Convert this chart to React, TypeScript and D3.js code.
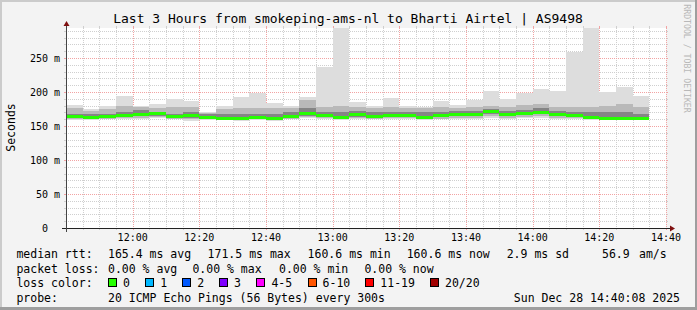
import React from 'react';
import * as d3 from 'd3';

const W = 697;
const H = 310;

const title = 'Last 3 Hours from smokeping-ams-nl to Bharti Airtel | AS9498';
const yAxisTitle = 'Seconds';
const watermark = 'RRDTOOL / TOBI OETIKER';

const startTime = new Date(2025, 11, 28, 11, 40);
const endTime = new Date(2025, 11, 28, 14, 40);
const stepMinutes = 5;

// RTT summary per 5-minute step (ms), 35 steps from 11:40
const maxRtt = [181, 175, 180, 194, 180, 183, 190, 187, 171, 180, 192, 199, 184, 180, 192, 237, 300, 185, 180, 191.5, 180, 178, 187, 181, 187.5, 202, 190, 198, 204, 202, 259, 300, 200.5, 207, 194];
const hi85Rtt = [176, 172, 175, 180, 178, 176, 178, 178, 169, 175, 176, 177, 176, 176, 188, 178, 180, 178, 176, 178, 177, 176, 178, 177, 178, 180, 178, 181, 182, 178, 178, 178, 180, 182, 178];
const hi65Rtt = [168, 167, 168, 170, 174, 171, 168, 170, 167, 167, 168, 168, 167, 170, 176, 170, 170, 172, 170, 170, 171, 170, 171, 172, 172, 175, 172, 174, 176, 172, 171, 170, 170, 170, 168];
const medianRtt = [164, 163, 164, 165, 166.5, 168, 163.5, 165, 162, 161.5, 161, 162.5, 161, 164.5, 168.5, 165.5, 162.5, 166.5, 164, 165.5, 165, 163, 165, 167, 167.5, 171.5, 166.5, 168.5, 170.5, 167.5, 165, 162, 161, 160.8, 160.6];
const lo35Rtt = [161.5, 161, 162, 163, 164, 165, 162, 162, 161, 161, 160, 161, 160, 162, 165, 163, 161, 163, 162, 163, 163, 161, 163, 164, 164, 167, 164, 166, 167, 164, 163, 161, 160.5, 160.6, 160.2];
const lo15Rtt = [160, 160, 161, 162, 162, 163, 161, 160, 160, 160, 159, 160, 159, 161, 163, 162, 160, 162, 161, 162, 162, 160, 161, 162, 162, 164, 162, 163, 164, 162, 162, 160, 160, 160, 159.5];
const minRtt = [158.5, 159, 160, 160, 161, 162, 160, 158, 159, 159, 158, 159, 158, 160, 162, 161, 159, 161, 160, 161, 161, 159, 160, 161, 161, 162, 161, 162, 162, 161, 161, 159, 159, 159, 158.5];

const yMajorTicks = [0, 50, 100, 150, 200, 250];
const yTickLabels = ['0\u00a0\u00a0', '50 m', '100 m', '150 m', '200 m', '250 m'];

const legendRows = [
  { label: 'median rtt:', items: [['165.4 ms avg', 108], ['171.5 ms max', 207.6], ['160.6 ms min', 307.6], ['160.6 ms now', 406.7], ['2.9 ms sd', 506.7], ['56.9', 602], ['am/s', 639]] },
  { label: 'packet loss:', items: [['0.00 % avg', 108], ['0.00 % max', 192.4], ['0.00 % min', 279], ['0.00 % now', 364.4]] },
];
const lossLabels = ['0', '1', '2', '3', '4-5', '6-10', '11-19', '20/20'];
const lossColors = ['#26ff00', '#00b8ff', '#0059ff', '#7e00ff', '#ff00ff', '#ff5500', '#ff0000', '#a10000'];
const lossBoxX = [108, 145.3, 182.2, 219, 256.4, 307.6, 365.3, 430];
const probeText = '20 ICMP Echo Pings (56 Bytes) every 300s';
const dateText = 'Sun Dec 28 14:40:08 2025';

const FONT = 'DejaVu Sans Mono';

export default function App() {
  const left = 66, right = 666, top = 28, bottom = 228;
  const x = d3.scaleTime().domain([startTime, endTime]).range([left, right]);
  const y = d3.scaleLinear().domain([0, 294.1]).range([bottom, top]);

  const steps = medianRtt.map((_, i) => d3.timeMinute.offset(startTime, i * stepMinutes));
  const minorTimes = d3.timeMinute.every(5)!.range(startTime, d3.timeMinute.offset(endTime, 1));
  const majorTimes = minorTimes.filter((t) => t.getMinutes() % 20 === 0);
  const yMinor = d3.range(10, 294, 10).filter((v) => v % 50 !== 0);
  const fmt = d3.timeFormat('%H:%M');

  const px = (v: number) => Math.round(v) + 0.5;
  const minorCol = '#cfcfcf';
  const majorCol = '#f2a3a3';

  const bands: [number[], number[], string][] = [
    [minRtt, maxRtt, '#dddddd'],
    [lo15Rtt, hi85Rtt, '#b9b9b9'],
    [lo35Rtt, hi65Rtt, '#858585'],
  ];

  return (
    <svg width={W} height={H} style={{ position: 'absolute', left: 0, top: 0 }} fontFamily={FONT}>
      <defs>
        <clipPath id="canvas">
          <rect x={left} y={top} width={right - left} height={bottom - top} />
        </clipPath>
      </defs>
      <rect x={0} y={0} width={W} height={H} fill="#f3f3f3" />
      <rect x={0} y={0} width={W} height={2} fill="#cbcbcb" />
      <rect x={0} y={0} width={2} height={H} fill="#cbcbcb" />
      <rect x={0} y={H - 3} width={W} height={3} fill="#9e9e9e" />
      <rect x={W - 2} y={0} width={2} height={H} fill="#9e9e9e" />
      <rect x={left} y={top} width={right - left} height={bottom - top} fill="#ffffff" />

      {/* minor grid */}
      <g shapeRendering="crispEdges">
        {yMinor.map((v) => (
          <g key={'ym' + v}>
            <line x1={left} x2={right} y1={px(y(v))} y2={px(y(v))} stroke={minorCol} strokeDasharray="1 1" />
            <line x1={left - 2} x2={left} y1={px(y(v))} y2={px(y(v))} stroke={minorCol} />
            <line x1={right} x2={right + 2} y1={px(y(v))} y2={px(y(v))} stroke={minorCol} />
          </g>
        ))}
        {minorTimes.filter((t) => t.getMinutes() % 20 !== 0).map((t) => (
          <g key={'xm' + t.getTime()}>
            <line x1={px(x(t))} x2={px(x(t))} y1={top} y2={bottom} stroke={minorCol} strokeDasharray="1 1" />
            <line x1={px(x(t))} x2={px(x(t))} y1={bottom} y2={bottom + 2} stroke={minorCol} />
            <line x1={px(x(t))} x2={px(x(t))} y1={top - 2} y2={top} stroke={minorCol} />
          </g>
        ))}
        {yMajorTicks.filter((v) => v > 0).map((v) => (
          <g key={'yM' + v}>
            <line x1={left} x2={right} y1={px(y(v))} y2={px(y(v))} stroke={majorCol} strokeDasharray="1 1" />
            <line x1={left - 2} x2={left} y1={px(y(v))} y2={px(y(v))} stroke={majorCol} />
            <line x1={right} x2={right + 2} y1={px(y(v))} y2={px(y(v))} stroke={majorCol} />
          </g>
        ))}
        {majorTimes.filter((t) => t > startTime).map((t) => (
          <g key={'xM' + t.getTime()}>
            <line x1={px(x(t))} x2={px(x(t))} y1={top} y2={bottom} stroke={majorCol} strokeDasharray="1 1" />
            <line x1={px(x(t))} x2={px(x(t))} y1={bottom} y2={bottom + 2} stroke={majorCol} />
            <line x1={px(x(t))} x2={px(x(t))} y1={top - 2} y2={top} stroke={majorCol} />
          </g>
        ))}
      </g>

      {/* smoke */}
      <g clipPath="url(#canvas)" shapeRendering="crispEdges">
        {bands.map(([lo, hi, col], b) =>
          steps.map((t, i) => {
            const x0 = x(t);
            const x1 = x(d3.timeMinute.offset(t, stepMinutes));
            return (
              <rect key={'b' + b + '-' + i} x={x0} y={y(hi[i])} width={x1 - x0} height={y(lo[i]) - y(hi[i])} fill={col} />
            );
          })
        )}
        {steps.map((t, i) => {
          const x0 = x(t);
          const x1 = x(d3.timeMinute.offset(t, stepMinutes));
          return <rect key={'m' + i} x={x0} y={y(medianRtt[i]) - 1.5} width={x1 - x0} height={3} fill={lossColors[0]} />;
        })}
      </g>

      {/* axes */}
      <g shapeRendering="crispEdges">
        <line x1={left - 4} x2={right + 4} y1={px(bottom)} y2={px(bottom)} stroke="#222" />
        <line x1={px(left)} x2={px(left)} y1={bottom + 4} y2={top - 3} stroke="#444" />
      </g>
      <path d={`M${left + 0.5},21 L${left + 3.5},26 L${left - 2.5},26 Z`} fill="#7f1010" />
      <path d={`M${right + 9},${bottom + 0.5} L${right + 4},${bottom - 2.5} L${right + 4},${bottom + 3.5} Z`} fill="#7f1010" />

      {/* y labels */}
      {yMajorTicks.map((v, i) => (
        <text key={'yl' + v} x={60} y={y(v) + 3.6} fontSize={10} textAnchor="end" fill="#000">
          {yTickLabels[i]}
        </text>
      ))}
      {/* x labels */}
      {majorTimes.filter((t) => t > startTime).map((t) => (
        <text key={'xl' + t.getTime()} x={x(t)} y={240.5} fontSize={10} textAnchor="middle" fill="#000">
          {fmt(t)}
        </text>
      ))}

      <text x={348} y={23} fontSize={13} textAnchor="middle" fill="#000">{title}</text>
      <text transform="translate(14.5,127.5) rotate(-90)" fontSize={11.5} textAnchor="middle" fill="#000">{yAxisTitle}</text>
      <text transform="translate(684,58.5) rotate(90)" fontSize={8.2} textAnchor="middle" fill="#b8b8b8">{watermark}</text>

      {/* legend */}
      {legendRows.map((row, r) => (
        <g key={'lr' + r}>
          <text x={16.4} y={258 + r * 14.5} fontSize={11.5} fill="#000">{row.label}</text>
          {row.items.map(([s, xx]) => (
            <text key={String(s) + xx} x={xx as number} y={258 + r * 14.5} fontSize={11.5} fill="#000">{s}</text>
          ))}
        </g>
      ))}
      <text x={16.4} y={287} fontSize={11.5} fill="#000">loss color:</text>
      {lossLabels.map((l, i) => (
        <g key={'lc' + i}>
          <rect x={lossBoxX[i] + 0.5} y={278.5} width={8} height={8} fill={lossColors[i]} stroke="#000" shapeRendering="crispEdges" />
          <text x={lossBoxX[i] + 15} y={287} fontSize={11.5} fill="#000">{l}</text>
        </g>
      ))}
      <text x={16.4} y={301.5} fontSize={11.5} fill="#000">probe:</text>
      <text x={108} y={301.5} fontSize={11.5} fill="#000">{probeText}</text>
      <text x={680} y={301.5} fontSize={11.5} textAnchor="end" fill="#000">{dateText}</text>
    </svg>
  );
}
